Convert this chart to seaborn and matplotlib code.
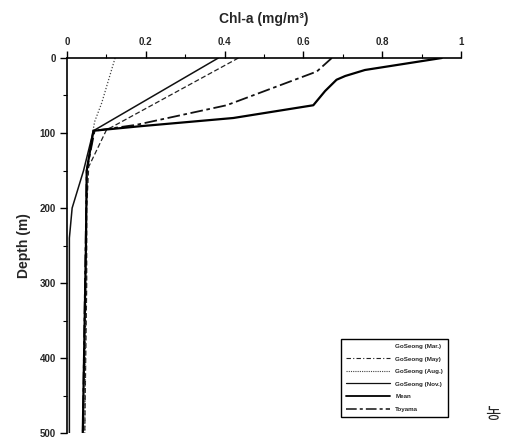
import numpy as np
import pandas as pd
import seaborn as sns
import matplotlib.pyplot as plt
from matplotlib.lines import Line2D
from matplotlib.ticker import MultipleLocator

# Perfiles de Chl-a (mg/m3) frente a profundidad (m)
nov_depth = [0, 97, 150, 200, 240, 500]
nov_chl = [0.384, 0.067, 0.042, 0.013, 0.006, 0.006]

may_depth = [0, 96, 145, 200, 300, 500]
may_chl = [0.435, 0.100, 0.055, 0.050, 0.050, 0.045]

aug_depth = [0, 60, 85, 100, 150, 500]
aug_chl = [0.122, 0.088, 0.070, 0.065, 0.050, 0.045]

toyama_depth = [0, 18, 63, 89, 97, 150, 500]
toyama_chl = [0.672, 0.634, 0.405, 0.177, 0.070, 0.050, 0.040]

mean_depth = [0, 16, 24, 29, 44, 63, 80, 91, 97, 150, 250, 500]
mean_chl = [0.951, 0.756, 0.706, 0.684, 0.655, 0.625, 0.422, 0.185, 0.067, 0.050, 0.048, 0.040]

x_ticks = [0, 0.2, 0.4, 0.6, 0.8, 1]
x_labels = ['0', '0.2', '0.4', '0.6', '0.8', '1']
y_ticks = [0, 100, 200, 300, 400, 500]

sns.set_theme(style="white")
plt.rcParams['font.family'] = ['Liberation Sans', 'DejaVu Sans']

fig = plt.figure(figsize=(5.05, 4.41), dpi=100)
ax = fig.add_axes([0.1327, 0.018, 0.7803, 0.8505])

series = [
    ('GoSeong (Nov.)', nov_chl, nov_depth, '-', 1.1, '#111111'),
    ('GoSeong (May)', may_chl, may_depth, (0, (4, 2)), 0.9, '#222222'),
    ('GoSeong (Aug.)', aug_chl, aug_depth, (0, (1, 1.5)), 0.9, '#444444'),
    ('Toyama', toyama_chl, toyama_depth, (0, (7, 2, 2, 2)), 1.3, '#111111'),
    ('Mean', mean_chl, mean_depth, '-', 1.6, '#000000'),
]
for name, chl, dep, ls, lw, col in series:
    df = pd.DataFrame({'chl': chl, 'depth': dep})
    sns.lineplot(data=df, x='chl', y='depth', sort=False, estimator=None,
                 orient='y', ax=ax, color=col, linestyle=ls, linewidth=lw)

ax.set_xlim(0, 1)
ax.set_ylim(500, 0)
ax.xaxis.tick_top()
ax.xaxis.set_label_position('top')
ax.set_xticks(x_ticks)
ax.set_xticklabels(x_labels, fontsize=7, fontweight='bold')
ax.xaxis.set_minor_locator(MultipleLocator(0.1))
ax.set_yticks(y_ticks)
ax.set_yticklabels([str(v) for v in y_ticks], fontsize=7, fontweight='bold')
ax.yaxis.set_minor_locator(MultipleLocator(50))
ax.tick_params(axis='both', which='major', direction='out', length=5, width=1,
               color='black', pad=3, top=True, left=True, bottom=False, right=False)
ax.tick_params(axis='both', which='minor', direction='out', length=3, width=0.8,
               color='black', top=True, left=True, bottom=False, right=False)
for s in ['right', 'bottom']:
    ax.spines[s].set_visible(False)
for s in ['top', 'left']:
    ax.spines[s].set_color('black')
    ax.spines[s].set_linewidth(1.2)

ax.set_xlabel('Chl-a (mg/m³)', fontsize=10, fontweight='bold', labelpad=10)
ax.set_ylabel('Depth (m)', fontsize=10, fontweight='bold', labelpad=6)

handles = [
    Line2D([], [], linestyle='none'),
    Line2D([], [], color='#222222', linestyle=(0, (4, 2, 1, 2)), linewidth=0.8),
    Line2D([], [], color='#444444', linestyle=(0, (1, 1)), linewidth=0.8),
    Line2D([], [], color='#111111', linestyle='-', linewidth=0.9),
    Line2D([], [], color='#000000', linestyle='-', linewidth=1.3),
    Line2D([], [], color='#111111', linestyle=(0, (7, 2, 2, 2)), linewidth=1.1),
]
labels = ['GoSeong (Mar.)', 'GoSeong (May)', 'GoSeong (Aug.)', 'GoSeong (Nov.)',
          'Mean', 'Toyama']
leg = ax.legend(handles, labels, loc='lower right', bbox_to_anchor=(0.975, 0.035),
                prop={'size': 4.5, 'weight': 'bold'}, handlelength=7,
                labelspacing=1.15, borderpad=0.8, fancybox=False, framealpha=1,
                edgecolor='black')
leg.get_frame().set_linewidth(1.0)

fig.text(0.976, 0.059, '농', fontsize=12, ha='center', va='center',
         fontfamily='Noto Sans CJK KR')

fig.savefig('out.png', dpi=100)
